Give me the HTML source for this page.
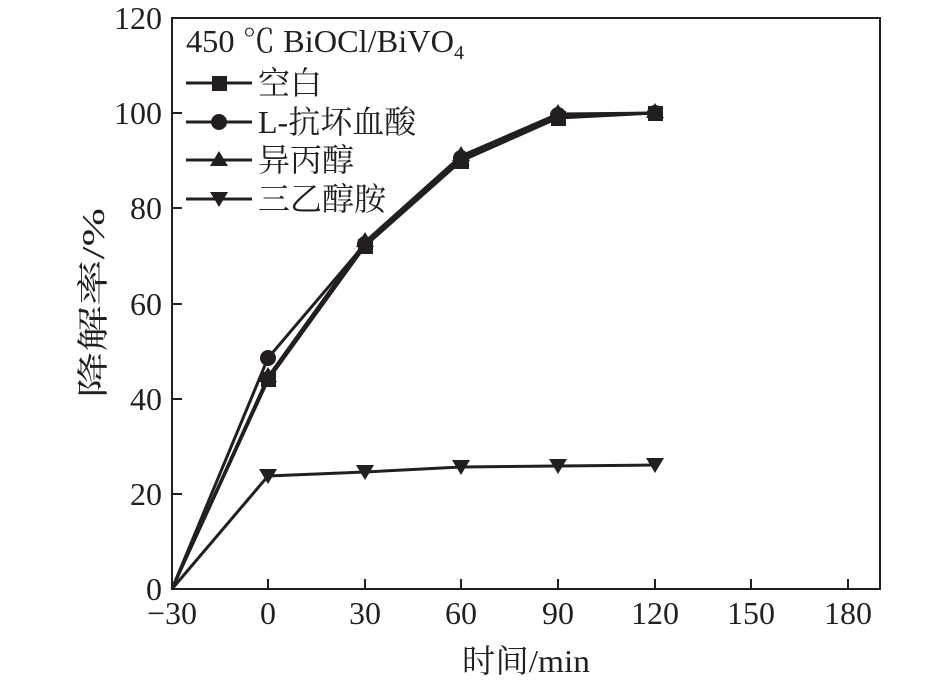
<!DOCTYPE html><html><head><meta charset="utf-8"><style>body{margin:0;background:#fff}</style></head><body>
<svg width="945" height="683" viewBox="0 0 945 683" font-family="'Liberation Serif','Noto Serif CJK SC',serif" fill="#231f20">
<rect x="172" y="18" width="708" height="571" fill="none" stroke="#231f20" stroke-width="2"/>
<g stroke="#231f20" stroke-width="2">
<line x1="172" y1="494" x2="182" y2="494"/><line x1="172" y1="399" x2="182" y2="399"/><line x1="172" y1="304" x2="182" y2="304"/><line x1="172" y1="208" x2="182" y2="208"/><line x1="172" y1="113" x2="182" y2="113"/>
<line x1="268" y1="589" x2="268" y2="579"/><line x1="365" y1="589" x2="365" y2="579"/><line x1="461" y1="589" x2="461" y2="579"/><line x1="558" y1="589" x2="558" y2="579"/><line x1="655" y1="589" x2="655" y2="579"/><line x1="751" y1="589" x2="751" y2="579"/><line x1="848" y1="589" x2="848" y2="579"/>
</g>
<g font-size="32" text-anchor="end">
<text x="162" y="600">0</text><text x="162" y="505">20</text><text x="162" y="410">40</text><text x="162" y="315">60</text><text x="162" y="219">80</text><text x="162" y="124">100</text><text x="162" y="29">120</text></g>
<g font-size="32" text-anchor="middle">
<text x="172" y="624">−30</text><text x="268" y="624">0</text><text x="365" y="624">30</text><text x="461" y="624">60</text><text x="558" y="624">90</text><text x="655" y="624">120</text><text x="751" y="624">150</text><text x="848" y="624">180</text>
<text x="526" y="672" textLength="128" lengthAdjust="spacingAndGlyphs">时间/min</text></g>
<text transform="translate(104,303) rotate(-90)" font-size="32" text-anchor="middle" textLength="190" lengthAdjust="spacingAndGlyphs">降解率/%</text>
<g fill="none" stroke="#231f20" stroke-width="3">
<polyline points="172,589 268,380 365,246 461,161 558,118 655,113"/>
<polyline points="172,589 268,358 365,244 461,158 558,115 655,113"/>
<polyline points="172,589 268,377 365,242 461,156 558,114 655,113"/>
<polyline points="172,589 268,476 365,472 461,467 558,466 655,465"/>
<line x1="186" y1="83" x2="252" y2="83"/><line x1="186" y1="122" x2="252" y2="122"/><line x1="186" y1="160" x2="252" y2="160"/><line x1="186" y1="199" x2="252" y2="199"/>
</g>
<g>
<rect x="261" y="372" width="15" height="15"/><rect x="358" y="239" width="15" height="15"/><rect x="454" y="154" width="15" height="15"/><rect x="551" y="111" width="15" height="15"/><rect x="648" y="106" width="15" height="15"/>
<circle cx="268" cy="358" r="8"/><circle cx="365" cy="244" r="8"/><circle cx="461" cy="158" r="8"/><circle cx="558" cy="115" r="8"/><circle cx="655" cy="113" r="8"/>
<path d="M268,367l9,15h-18z M365,232l9,15h-18z M461,146l9,15h-18z M558,104l9,15h-18z M655,103l9,15h-18z"/>
<path d="M259,469h18l-9,15z M356,465h18l-9,15z M452,460h18l-9,15z M549,459h18l-9,15z M646,458h18l-9,15z"/>
<rect x="212" y="76" width="15" height="15"/><circle cx="219" cy="122" r="8"/><path d="M219,151l9,15h-18z"/><path d="M210,192h18l-9,15z"/>
</g>
<g font-size="32"><text x="186" y="52"><tspan textLength="268" lengthAdjust="spacingAndGlyphs">450 ℃ BiOCl/BiVO</tspan><tspan font-size="20" dy="7">4</tspan></text>
<text x="258" y="94">空白</text><text x="258" y="133">L-抗坏血酸</text><text x="258" y="171">异丙醇</text><text x="258" y="210">三乙醇胺</text></g>
</svg></body></html>
